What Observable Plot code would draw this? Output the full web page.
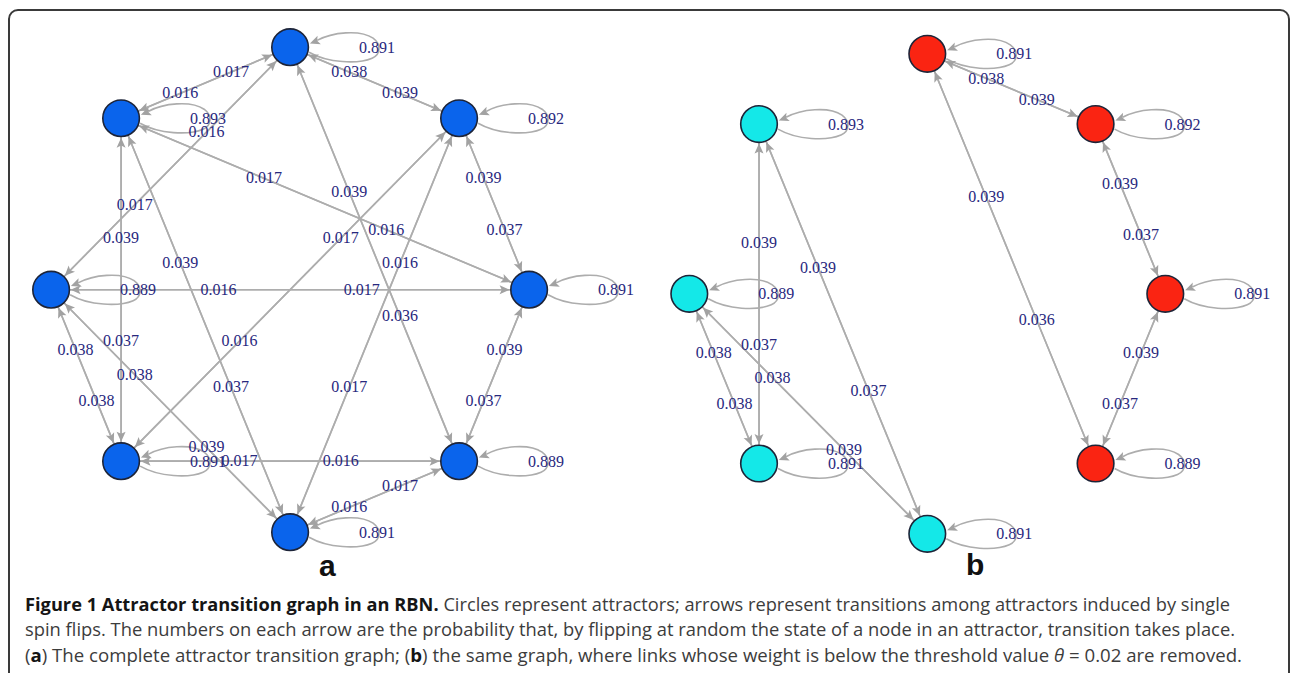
<!DOCTYPE html>
<html><head><meta charset="utf-8">
<script src="https://cdn.jsdelivr.net/npm/d3@7"></script>
<script src="https://cdn.jsdelivr.net/npm/@observablehq/plot@0.6"></script>
<style>
html,body{margin:0;padding:0;background:#fff;}
body{width:1290px;height:673px;position:relative;overflow:hidden;}
#frame{position:absolute;left:8px;top:9px;width:1282px;height:720px;box-sizing:border-box;border:2px solid #3a3a3a;border-radius:10px;}
#pa,#pb{position:absolute;top:0;}
#pa{left:0;width:645px;}
#pb{left:640px;width:650px;}
.letter{position:absolute;font:bold 30px "Liberation Sans",Arial,sans-serif;line-height:1;color:#111;}
#caption{position:absolute;left:25px;top:591px;font-family:"Open Sans",sans-serif;font-size:18.5px;line-height:25.4px;color:#3c3c3c;}
#caption .ln{white-space:nowrap;transform-origin:0 0;width:max-content;}
#caption b{color:#151515;}
</style></head>
<body>
<div id="frame"></div>
<div id="pa"></div>
<div id="pb"></div>
<div class="letter" style="left:319px;top:551px;">a</div>
<div class="letter" style="left:966px;top:549.5px;">b</div>
<div id="caption">
<div class="ln"><b>Figure 1 Attractor transition graph in an RBN.</b> Circles represent attractors; arrows represent transitions among attractors induced by single</div>
<div class="ln">spin flips. The numbers on each arrow are the probability that, by flipping at random the state of a node in an attractor, transition takes place.</div>
<div class="ln">(<b>a</b>) The complete attractor transition graph; (<b>b</b>) the same graph, where links whose weight is below the threshold value <i>θ</i> = 0.02 are removed.</div>
</div>
<script>
// ---- data ----
const nodeIds = [1, 2, 3, 4, 5, 6, 7, 8]; // circular layout order, clockwise from the top
const selfLoopWeight = [0.891, 0.892, 0.891, 0.889, 0.891, 0.891, 0.889, 0.893];
const edgeSource = [2,1, 8,1, 7,1, 4,1, 3,8, 6,8, 5,8, 3,2, 6,2, 5,2, 3,7, 6,7, 5,7, 4,3, 4,6, 5,4];
const edgeTarget = [1,2, 1,8, 1,7, 1,4, 8,3, 8,6, 8,5, 2,3, 2,6, 2,5, 7,3, 7,6, 7,5, 3,4, 6,4, 4,5];
const edgeWeight = [0.038,0.039, 0.017,0.016, 0.016,0.017, 0.039,0.036, 0.017,0.016, 0.039,0.037,
                    0.039,0.037, 0.039,0.037, 0.017,0.016, 0.016,0.017, 0.016,0.017, 0.038,0.038,
                    0.038,0.039, 0.039,0.037, 0.017,0.016, 0.017,0.016];
const threshold = 0.02;

// ---- styles ----
const NODE_R = 18.3;
const EDGE_COLOR = "#adadad", HEAD_COLOR = "#a2a2a2", LABEL_COLOR = "#28287e";
const fmt = d3.format(".3f");

function head(ctx, ax, ay, ux, uy) {
  const L = 10, W = 4.5, N = 7.8, px = -uy, py = ux;
  ctx.moveTo(ax, ay);
  ctx.lineTo(ax - L*ux + W*px, ay - L*uy + W*py);
  ctx.lineTo(ax - N*ux, ay - N*uy);
  ctx.lineTo(ax - L*ux - W*px, ay - L*uy - W*py);
  ctx.closePath();
}
const edgeHeadSymbol = {draw(ctx) { head(ctx, 0, NODE_R + 1.2, 0, -1); }};
const loopHeadSymbol = {draw(ctx) { head(ctx, 19.8, -3.6, -0.93, 0.36); }};
const loopSymbol = {draw(ctx) {
  ctx.moveTo(27, -6.8);
  ctx.bezierCurveTo(42, -15, 70, -18, 83, -9);
  ctx.bezierCurveTo(91, -3, 91, 7, 82, 11);
  ctx.bezierCurveTo(68, 17, 38, 16, 19, 5);
}};

const ang = i => -Math.PI / 2 + i * Math.PI / 4;

function components(edgeIdx) {
  const adj = new Map(nodeIds.map(id => [id, []]));
  edgeIdx.forEach(k => { adj.get(edgeSource[k]).push(edgeTarget[k]); adj.get(edgeTarget[k]).push(edgeSource[k]); });
  const comp = new Map(); let c = 0;
  for (const id of nodeIds) {
    if (comp.has(id)) continue;
    const stack = [id]; comp.set(id, c);
    while (stack.length) { const u = stack.pop(); for (const v of adj.get(u)) if (!comp.has(v)) { comp.set(v, c); stack.push(v); } }
    c++;
  }
  return comp;
}

function panel(edgeIdx, colorOpt, fill, g) {
  const nodes = nodeIds.map((id, i) => ({id, x: Math.cos(ang(i)), y: Math.sin(ang(i)), loop: selfLoopWeight[i]}));
  const byId = new Map(nodes.map(n => [n.id, n]));
  const edges = edgeIdx.map(k => {
    const s = byId.get(edgeSource[k]), t = byId.get(edgeTarget[k]);
    const ux = (t.x - s.x) * g.rx, uy = (t.y - s.y) * g.ry;
    return {s, t, w: edgeWeight[k], rot: Math.atan2(ux, -uy) * 180 / Math.PI};
  });
  return Plot.plot({
    width: g.width, height: g.height, margin: 0,
    x: {domain: [-1, 1], range: [g.cx - g.rx, g.cx + g.rx], axis: null},
    y: {domain: [-1, 1], range: [g.cy - g.ry, g.cy + g.ry], axis: null},
    color: colorOpt,
    style: {background: "transparent", overflow: "visible"},
    marks: [
      Plot.link(edges, {x1: d => d.s.x, y1: d => d.s.y, x2: d => d.t.x, y2: d => d.t.y, stroke: EDGE_COLOR, strokeWidth: 1.6}),
      Plot.dot(nodes, {x: "x", y: "y", r: 1, symbol: loopSymbol, fill: "none", stroke: EDGE_COLOR, strokeWidth: 1.6}),
      Plot.dot(nodes, {x: "x", y: "y", r: 1, symbol: loopHeadSymbol, fill: HEAD_COLOR}),
      Plot.dot(edges, {x: d => d.t.x, y: d => d.t.y, r: 1, symbol: edgeHeadSymbol, rotate: "rot", fill: HEAD_COLOR}),
      Plot.dot(nodes, {x: "x", y: "y", r: NODE_R, fill, stroke: "#1d2438", strokeWidth: 1.6}),
      Plot.text(edges, {x: d => d.s.x + 0.65 * (d.t.x - d.s.x), y: d => d.s.y + 0.65 * (d.t.y - d.s.y),
        text: d => fmt(d.w), fill: LABEL_COLOR, fontFamily: "Liberation Serif", fontSize: 16}),
      Plot.text(nodes, {x: "x", y: "y", dx: 87, dy: 0.5, text: d => fmt(d.loop), fill: LABEL_COLOR, fontFamily: "Liberation Serif", fontSize: 16})
    ]
  });
}

const allIdx = edgeWeight.map((_, k) => k);
const keptIdx = allIdx.filter(k => edgeWeight[k] >= threshold);
const comp = components(keptIdx);

document.getElementById("pa").append(
  panel(allIdx, undefined, "#0a64ec", {width: 645, height: 590, cx: 289.6, cy: 289.2, rx: 239, ry: 242.5})
);
document.getElementById("pb").append(
  panel(keptIdx, {type: "ordinal", domain: [0, 1], range: ["#fa2412", "#14e8e8"]}, d => comp.get(d.id),
    {width: 650, height: 590, cx: 286.8, cy: 293.3, rx: 238, ry: 240})
);

// fit caption lines to the reference widths
const targets = [1205, 1210, 1217];
document.querySelectorAll("#caption .ln").forEach((el, i) => {
  const w = el.getBoundingClientRect().width;
  el.style.transform = `scaleX(${targets[i] / w})`;
});
</script>
</body></html>
